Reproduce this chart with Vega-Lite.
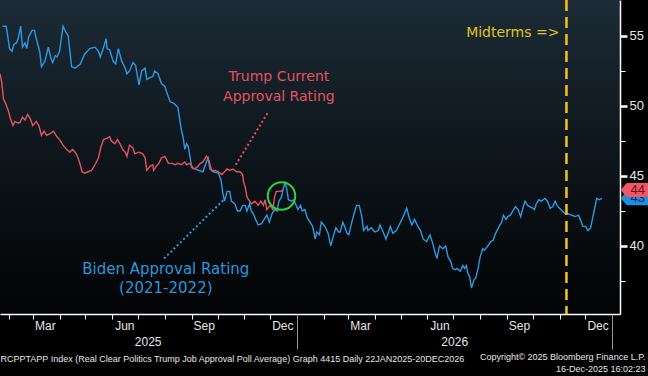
{
"$schema":"https://vega.github.io/schema/vega-lite/v6.json",
"width":620,"height":314,
"autosize":{"type":"none"},
"padding":{"left":0,"top":0,"right":28,"bottom":62},
"background":"#000000",
"config":{
 "view":{"stroke":null,"fill":{"gradient":"linear","x1":0,"y1":0,"x2":0,"y2":1,"stops":[{"offset":0,"color":"#1c2b36"},{"offset":0.5,"color":"#0d151b"},{"offset":1,"color":"#020304"}]}},
 "axis":{"grid":false,"labelFont":"Liberation Sans","labelColor":"#e6e6e6","domainColor":"#ffffff","tickColor":"#ffffff","titleFont":"Liberation Sans","titleColor":"#e6e6e6","labelFontSize":12}
},
"datasets":{
 "lines":[
{"series":"Biden","date":"2025-01-25","value":55.7},{"series":"Biden","date":"2025-01-29","value":55.7},{"series":"Biden","date":"2025-01-30","value":55.4},{"series":"Biden","date":"2025-02-02","value":54.1},{"series":"Biden","date":"2025-02-05","value":53.9},{"series":"Biden","date":"2025-02-07","value":54.4},{"series":"Biden","date":"2025-02-10","value":54.5},{"series":"Biden","date":"2025-02-12","value":54.8},{"series":"Biden","date":"2025-02-15","value":55.7},{"series":"Biden","date":"2025-02-17","value":54.2},{"series":"Biden","date":"2025-02-20","value":54.5},{"series":"Biden","date":"2025-02-22","value":54.1},{"series":"Biden","date":"2025-02-24","value":54.9},{"series":"Biden","date":"2025-02-28","value":55.4},{"series":"Biden","date":"2025-03-03","value":55.4},{"series":"Biden","date":"2025-03-05","value":54.8},{"series":"Biden","date":"2025-03-09","value":53.9},{"series":"Biden","date":"2025-03-11","value":52.8},{"series":"Biden","date":"2025-03-15","value":53.2},{"series":"Biden","date":"2025-03-19","value":54.2},{"series":"Biden","date":"2025-03-22","value":53.4},{"series":"Biden","date":"2025-03-24","value":53.1},{"series":"Biden","date":"2025-03-27","value":53.6},{"series":"Biden","date":"2025-03-29","value":53.5},{"series":"Biden","date":"2025-04-01","value":53.9},{"series":"Biden","date":"2025-04-03","value":54.8},{"series":"Biden","date":"2025-04-05","value":55.7},{"series":"Biden","date":"2025-04-08","value":55.3},{"series":"Biden","date":"2025-04-11","value":55.0},{"series":"Biden","date":"2025-04-13","value":53.9},{"series":"Biden","date":"2025-04-15","value":52.8},{"series":"Biden","date":"2025-04-19","value":52.7},{"series":"Biden","date":"2025-04-25","value":53.0},{"series":"Biden","date":"2025-04-30","value":53.7},{"series":"Biden","date":"2025-05-06","value":54.1},{"series":"Biden","date":"2025-05-12","value":54.2},{"series":"Biden","date":"2025-05-16","value":53.9},{"series":"Biden","date":"2025-05-18","value":53.5},{"series":"Biden","date":"2025-05-21","value":54.0},{"series":"Biden","date":"2025-05-25","value":54.8},{"series":"Biden","date":"2025-05-26","value":54.1},{"series":"Biden","date":"2025-05-29","value":54.0},{"series":"Biden","date":"2025-06-02","value":53.2},{"series":"Biden","date":"2025-06-05","value":53.0},{"series":"Biden","date":"2025-06-08","value":54.1},{"series":"Biden","date":"2025-06-12","value":53.2},{"series":"Biden","date":"2025-06-16","value":52.7},{"series":"Biden","date":"2025-06-18","value":52.3},{"series":"Biden","date":"2025-06-21","value":52.5},{"series":"Biden","date":"2025-06-25","value":53.1},{"series":"Biden","date":"2025-06-28","value":52.9},{"series":"Biden","date":"2025-07-02","value":51.5},{"series":"Biden","date":"2025-07-05","value":52.5},{"series":"Biden","date":"2025-07-09","value":52.7},{"series":"Biden","date":"2025-07-11","value":51.9},{"series":"Biden","date":"2025-07-14","value":52.0},{"series":"Biden","date":"2025-07-18","value":52.1},{"series":"Biden","date":"2025-07-20","value":52.5},{"series":"Biden","date":"2025-07-24","value":52.3},{"series":"Biden","date":"2025-07-28","value":51.6},{"series":"Biden","date":"2025-08-01","value":51.4},{"series":"Biden","date":"2025-08-03","value":51.0},{"series":"Biden","date":"2025-08-07","value":50.3},{"series":"Biden","date":"2025-08-11","value":50.2},{"series":"Biden","date":"2025-08-16","value":49.9},{"series":"Biden","date":"2025-08-20","value":48.3},{"series":"Biden","date":"2025-08-22","value":47.8},{"series":"Biden","date":"2025-08-24","value":46.9},{"series":"Biden","date":"2025-08-26","value":47.3},{"series":"Biden","date":"2025-08-28","value":47.1},{"series":"Biden","date":"2025-08-30","value":46.4},{"series":"Biden","date":"2025-09-01","value":45.6},{"series":"Biden","date":"2025-09-05","value":45.5},{"series":"Biden","date":"2025-09-09","value":45.4},{"series":"Biden","date":"2025-09-14","value":45.3},{"series":"Biden","date":"2025-09-18","value":46.0},{"series":"Biden","date":"2025-09-20","value":46.3},{"series":"Biden","date":"2025-09-22","value":45.5},{"series":"Biden","date":"2025-09-26","value":45.3},{"series":"Biden","date":"2025-10-02","value":45.2},{"series":"Biden","date":"2025-10-05","value":44.7},{"series":"Biden","date":"2025-10-07","value":43.8},{"series":"Biden","date":"2025-10-09","value":43.2},{"series":"Biden","date":"2025-10-12","value":43.9},{"series":"Biden","date":"2025-10-15","value":43.9},{"series":"Biden","date":"2025-10-17","value":43.2},{"series":"Biden","date":"2025-10-21","value":43.0},{"series":"Biden","date":"2025-10-24","value":42.5},{"series":"Biden","date":"2025-10-27","value":42.5},{"series":"Biden","date":"2025-10-30","value":42.9},{"series":"Biden","date":"2025-11-02","value":42.9},{"series":"Biden","date":"2025-11-04","value":42.5},{"series":"Biden","date":"2025-11-07","value":43.0},{"series":"Biden","date":"2025-11-09","value":42.5},{"series":"Biden","date":"2025-11-12","value":42.2},{"series":"Biden","date":"2025-11-14","value":41.9},{"series":"Biden","date":"2025-11-17","value":41.5},{"series":"Biden","date":"2025-11-21","value":41.6},{"series":"Biden","date":"2025-11-25","value":42.0},{"series":"Biden","date":"2025-11-27","value":42.2},{"series":"Biden","date":"2025-11-30","value":41.7},{"series":"Biden","date":"2025-12-03","value":42.3},{"series":"Biden","date":"2025-12-06","value":42.6},{"series":"Biden","date":"2025-12-09","value":42.5},{"series":"Biden","date":"2025-12-11","value":43.2},{"series":"Biden","date":"2025-12-14","value":43.5},{"series":"Biden","date":"2025-12-16","value":44.1},{"series":"Biden","date":"2025-12-18","value":44.5},{"series":"Biden","date":"2025-12-20","value":44.1},{"series":"Biden","date":"2025-12-22","value":43.3},{"series":"Biden","date":"2025-12-26","value":43.2},{"series":"Biden","date":"2025-12-28","value":43.3},{"series":"Biden","date":"2025-12-31","value":42.9},{"series":"Biden","date":"2026-01-02","value":42.6},{"series":"Biden","date":"2026-01-05","value":42.9},{"series":"Biden","date":"2026-01-07","value":42.5},{"series":"Biden","date":"2026-01-10","value":42.6},{"series":"Biden","date":"2026-01-13","value":42.0},{"series":"Biden","date":"2026-01-16","value":41.7},{"series":"Biden","date":"2026-01-19","value":41.4},{"series":"Biden","date":"2026-01-22","value":40.5},{"series":"Biden","date":"2026-01-24","value":41.0},{"series":"Biden","date":"2026-01-27","value":40.8},{"series":"Biden","date":"2026-01-29","value":41.7},{"series":"Biden","date":"2026-02-01","value":41.5},{"series":"Biden","date":"2026-02-03","value":41.3},{"series":"Biden","date":"2026-02-06","value":40.9},{"series":"Biden","date":"2026-02-09","value":40.0},{"series":"Biden","date":"2026-02-12","value":40.7},{"series":"Biden","date":"2026-02-15","value":41.3},{"series":"Biden","date":"2026-02-18","value":41.0},{"series":"Biden","date":"2026-02-20","value":41.0},{"series":"Biden","date":"2026-02-23","value":41.7},{"series":"Biden","date":"2026-02-25","value":41.4},{"series":"Biden","date":"2026-02-28","value":40.9},{"series":"Biden","date":"2026-03-02","value":40.8},{"series":"Biden","date":"2026-03-05","value":41.6},{"series":"Biden","date":"2026-03-08","value":42.3},{"series":"Biden","date":"2026-03-11","value":42.9},{"series":"Biden","date":"2026-03-14","value":42.9},{"series":"Biden","date":"2026-03-17","value":42.1},{"series":"Biden","date":"2026-03-19","value":41.1},{"series":"Biden","date":"2026-03-23","value":41.4},{"series":"Biden","date":"2026-03-24","value":41.1},{"series":"Biden","date":"2026-03-28","value":41.3},{"series":"Biden","date":"2026-04-01","value":41.0},{"series":"Biden","date":"2026-04-05","value":41.1},{"series":"Biden","date":"2026-04-07","value":41.5},{"series":"Biden","date":"2026-04-10","value":41.1},{"series":"Biden","date":"2026-04-14","value":40.5},{"series":"Biden","date":"2026-04-17","value":41.0},{"series":"Biden","date":"2026-04-19","value":41.4},{"series":"Biden","date":"2026-04-22","value":40.9},{"series":"Biden","date":"2026-04-26","value":41.1},{"series":"Biden","date":"2026-04-30","value":41.6},{"series":"Biden","date":"2026-05-04","value":42.1},{"series":"Biden","date":"2026-05-08","value":42.7},{"series":"Biden","date":"2026-05-11","value":42.0},{"series":"Biden","date":"2026-05-14","value":41.5},{"series":"Biden","date":"2026-05-17","value":41.9},{"series":"Biden","date":"2026-05-21","value":41.4},{"series":"Biden","date":"2026-05-24","value":41.1},{"series":"Biden","date":"2026-05-27","value":40.5},{"series":"Biden","date":"2026-05-31","value":40.3},{"series":"Biden","date":"2026-06-04","value":40.8},{"series":"Biden","date":"2026-06-07","value":40.2},{"series":"Biden","date":"2026-06-10","value":39.5},{"series":"Biden","date":"2026-06-12","value":39.1},{"series":"Biden","date":"2026-06-15","value":40.0},{"series":"Biden","date":"2026-06-19","value":39.8},{"series":"Biden","date":"2026-06-22","value":40.0},{"series":"Biden","date":"2026-06-25","value":39.2},{"series":"Biden","date":"2026-06-28","value":38.9},{"series":"Biden","date":"2026-06-30","value":38.4},{"series":"Biden","date":"2026-07-03","value":38.3},{"series":"Biden","date":"2026-07-05","value":38.4},{"series":"Biden","date":"2026-07-09","value":38.2},{"series":"Biden","date":"2026-07-12","value":38.6},{"series":"Biden","date":"2026-07-14","value":38.4},{"series":"Biden","date":"2026-07-16","value":38.6},{"series":"Biden","date":"2026-07-18","value":38.0},{"series":"Biden","date":"2026-07-20","value":37.8},{"series":"Biden","date":"2026-07-22","value":37.0},{"series":"Biden","date":"2026-07-25","value":37.6},{"series":"Biden","date":"2026-07-27","value":37.7},{"series":"Biden","date":"2026-07-30","value":38.5},{"series":"Biden","date":"2026-08-01","value":39.2},{"series":"Biden","date":"2026-08-04","value":39.8},{"series":"Biden","date":"2026-08-06","value":39.7},{"series":"Biden","date":"2026-08-10","value":40.0},{"series":"Biden","date":"2026-08-13","value":40.3},{"series":"Biden","date":"2026-08-16","value":40.4},{"series":"Biden","date":"2026-08-19","value":40.9},{"series":"Biden","date":"2026-08-23","value":41.4},{"series":"Biden","date":"2026-08-26","value":41.7},{"series":"Biden","date":"2026-08-28","value":42.2},{"series":"Biden","date":"2026-08-31","value":41.9},{"series":"Biden","date":"2026-09-02","value":42.1},{"series":"Biden","date":"2026-09-05","value":42.2},{"series":"Biden","date":"2026-09-08","value":42.5},{"series":"Biden","date":"2026-09-11","value":42.8},{"series":"Biden","date":"2026-09-14","value":42.6},{"series":"Biden","date":"2026-09-17","value":42.1},{"series":"Biden","date":"2026-09-20","value":42.8},{"series":"Biden","date":"2026-09-22","value":43.2},{"series":"Biden","date":"2026-09-25","value":42.9},{"series":"Biden","date":"2026-09-28","value":42.8},{"series":"Biden","date":"2026-10-01","value":42.7},{"series":"Biden","date":"2026-10-03","value":42.6},{"series":"Biden","date":"2026-10-05","value":43.0},{"series":"Biden","date":"2026-10-08","value":43.3},{"series":"Biden","date":"2026-10-11","value":43.2},{"series":"Biden","date":"2026-10-13","value":43.3},{"series":"Biden","date":"2026-10-15","value":43.4},{"series":"Biden","date":"2026-10-18","value":43.2},{"series":"Biden","date":"2026-10-21","value":42.7},{"series":"Biden","date":"2026-10-24","value":42.8},{"series":"Biden","date":"2026-10-27","value":43.2},{"series":"Biden","date":"2026-10-29","value":42.9},{"series":"Biden","date":"2026-11-01","value":42.7},{"series":"Biden","date":"2026-11-04","value":42.5},{"series":"Biden","date":"2026-11-08","value":42.3},{"series":"Biden","date":"2026-11-11","value":42.3},{"series":"Biden","date":"2026-11-15","value":42.2},{"series":"Biden","date":"2026-11-19","value":42.1},{"series":"Biden","date":"2026-11-23","value":42.2},{"series":"Biden","date":"2026-11-25","value":41.9},{"series":"Biden","date":"2026-11-28","value":41.4},{"series":"Biden","date":"2026-12-01","value":41.4},{"series":"Biden","date":"2026-12-04","value":41.1},{"series":"Biden","date":"2026-12-07","value":41.3},{"series":"Biden","date":"2026-12-09","value":41.9},{"series":"Biden","date":"2026-12-12","value":42.8},{"series":"Biden","date":"2026-12-14","value":43.4},{"series":"Biden","date":"2026-12-17","value":43.3},{"series":"Biden","date":"2026-12-20","value":43.4},
{"series":"Trump","date":"2025-01-22","value":52.3},{"series":"Trump","date":"2025-01-24","value":51.7},{"series":"Trump","date":"2025-01-26","value":50.5},{"series":"Trump","date":"2025-01-29","value":50.1},{"series":"Trump","date":"2025-02-01","value":49.6},{"series":"Trump","date":"2025-02-03","value":49.1},{"series":"Trump","date":"2025-02-06","value":48.6},{"series":"Trump","date":"2025-02-08","value":48.9},{"series":"Trump","date":"2025-02-11","value":48.8},{"series":"Trump","date":"2025-02-14","value":48.8},{"series":"Trump","date":"2025-02-17","value":49.2},{"series":"Trump","date":"2025-02-20","value":49.0},{"series":"Trump","date":"2025-02-23","value":49.4},{"series":"Trump","date":"2025-02-26","value":49.1},{"series":"Trump","date":"2025-03-01","value":48.6},{"series":"Trump","date":"2025-03-05","value":48.9},{"series":"Trump","date":"2025-03-08","value":48.6},{"series":"Trump","date":"2025-03-11","value":47.9},{"series":"Trump","date":"2025-03-14","value":48.2},{"series":"Trump","date":"2025-03-17","value":47.9},{"series":"Trump","date":"2025-03-23","value":48.1},{"series":"Trump","date":"2025-03-25","value":48.2},{"series":"Trump","date":"2025-03-29","value":47.8},{"series":"Trump","date":"2025-04-01","value":47.6},{"series":"Trump","date":"2025-04-05","value":47.2},{"series":"Trump","date":"2025-04-09","value":46.9},{"series":"Trump","date":"2025-04-13","value":46.7},{"series":"Trump","date":"2025-04-16","value":46.9},{"series":"Trump","date":"2025-04-19","value":46.7},{"series":"Trump","date":"2025-04-21","value":46.5},{"series":"Trump","date":"2025-04-24","value":46.0},{"series":"Trump","date":"2025-04-27","value":45.3},{"series":"Trump","date":"2025-04-30","value":45.2},{"series":"Trump","date":"2025-05-04","value":45.3},{"series":"Trump","date":"2025-05-08","value":45.4},{"series":"Trump","date":"2025-05-12","value":45.8},{"series":"Trump","date":"2025-05-16","value":46.3},{"series":"Trump","date":"2025-05-19","value":47.1},{"series":"Trump","date":"2025-05-22","value":47.6},{"series":"Trump","date":"2025-05-26","value":47.7},{"series":"Trump","date":"2025-05-29","value":47.8},{"series":"Trump","date":"2025-05-31","value":47.5},{"series":"Trump","date":"2025-06-04","value":47.3},{"series":"Trump","date":"2025-06-07","value":47.6},{"series":"Trump","date":"2025-06-10","value":47.3},{"series":"Trump","date":"2025-06-13","value":46.9},{"series":"Trump","date":"2025-06-16","value":46.7},{"series":"Trump","date":"2025-06-18","value":46.4},{"series":"Trump","date":"2025-06-21","value":47.2},{"series":"Trump","date":"2025-06-25","value":47.0},{"series":"Trump","date":"2025-06-27","value":46.6},{"series":"Trump","date":"2025-07-02","value":46.7},{"series":"Trump","date":"2025-07-06","value":46.6},{"series":"Trump","date":"2025-07-09","value":46.3},{"series":"Trump","date":"2025-07-11","value":45.4},{"series":"Trump","date":"2025-07-15","value":45.7},{"series":"Trump","date":"2025-07-18","value":45.8},{"series":"Trump","date":"2025-07-19","value":45.4},{"series":"Trump","date":"2025-07-22","value":45.7},{"series":"Trump","date":"2025-07-25","value":45.9},{"series":"Trump","date":"2025-07-28","value":46.3},{"series":"Trump","date":"2025-08-01","value":46.4},{"series":"Trump","date":"2025-08-05","value":45.9},{"series":"Trump","date":"2025-08-09","value":45.9},{"series":"Trump","date":"2025-08-13","value":45.8},{"series":"Trump","date":"2025-08-16","value":45.9},{"series":"Trump","date":"2025-08-20","value":45.8},{"series":"Trump","date":"2025-08-24","value":46.0},{"series":"Trump","date":"2025-08-26","value":45.8},{"series":"Trump","date":"2025-08-30","value":45.9},{"series":"Trump","date":"2025-09-03","value":45.5},{"series":"Trump","date":"2025-09-07","value":45.6},{"series":"Trump","date":"2025-09-11","value":45.9},{"series":"Trump","date":"2025-09-14","value":46.0},{"series":"Trump","date":"2025-09-18","value":46.4},{"series":"Trump","date":"2025-09-21","value":46.1},{"series":"Trump","date":"2025-09-24","value":45.4},{"series":"Trump","date":"2025-09-28","value":45.4},{"series":"Trump","date":"2025-10-02","value":45.3},{"series":"Trump","date":"2025-10-06","value":45.1},{"series":"Trump","date":"2025-10-09","value":45.3},{"series":"Trump","date":"2025-10-12","value":45.5},{"series":"Trump","date":"2025-10-15","value":45.4},{"series":"Trump","date":"2025-10-19","value":45.5},{"series":"Trump","date":"2025-10-23","value":45.3},{"series":"Trump","date":"2025-10-27","value":45.3},{"series":"Trump","date":"2025-10-30","value":45.1},{"series":"Trump","date":"2025-10-31","value":44.6},{"series":"Trump","date":"2025-11-02","value":44.2},{"series":"Trump","date":"2025-11-04","value":43.5},{"series":"Trump","date":"2025-11-07","value":43.2},{"series":"Trump","date":"2025-11-09","value":43.0},{"series":"Trump","date":"2025-11-13","value":43.2},{"series":"Trump","date":"2025-11-17","value":42.9},{"series":"Trump","date":"2025-11-20","value":43.2},{"series":"Trump","date":"2025-11-23","value":42.9},{"series":"Trump","date":"2025-11-25","value":43.3},{"series":"Trump","date":"2025-11-27","value":42.6},{"series":"Trump","date":"2025-12-01","value":42.9},{"series":"Trump","date":"2025-12-04","value":42.6},{"series":"Trump","date":"2025-12-06","value":43.5},{"series":"Trump","date":"2025-12-08","value":43.9},{"series":"Trump","date":"2025-12-11","value":43.9},{"series":"Trump","date":"2025-12-13","value":43.9},{"series":"Trump","date":"2025-12-16","value":44.0}
 ]
},
"layer":[
 {
  "data":{"name":"lines"},
  "mark":{"type":"line","strokeWidth":1.4},
  "encoding":{
   "x":{"field":"date","type":"temporal",
    "scale":{"type":"utc","domain":[{"year":2025,"month":1,"date":22,"utc":true},{"year":2027,"month":1,"date":10,"utc":true}]},
    "axis":{"orient":"bottom","labels":false,"tickSize":5,"tickWidth":1,"domainWidth":1.5,"title":null,
     "values":[{"year":2025,"month":2,"date":1,"utc":true},{"year":2025,"month":3,"date":1,"utc":true},{"year":2025,"month":4,"date":1,"utc":true},{"year":2025,"month":5,"date":1,"utc":true},{"year":2025,"month":6,"date":1,"utc":true},{"year":2025,"month":7,"date":1,"utc":true},{"year":2025,"month":8,"date":1,"utc":true},{"year":2025,"month":9,"date":1,"utc":true},{"year":2025,"month":10,"date":1,"utc":true},{"year":2025,"month":11,"date":1,"utc":true},{"year":2025,"month":12,"date":1,"utc":true},{"year":2026,"month":1,"date":1,"utc":true},{"year":2026,"month":2,"date":1,"utc":true},{"year":2026,"month":3,"date":1,"utc":true},{"year":2026,"month":4,"date":1,"utc":true},{"year":2026,"month":5,"date":1,"utc":true},{"year":2026,"month":6,"date":1,"utc":true},{"year":2026,"month":7,"date":1,"utc":true},{"year":2026,"month":8,"date":1,"utc":true},{"year":2026,"month":9,"date":1,"utc":true},{"year":2026,"month":10,"date":1,"utc":true},{"year":2026,"month":11,"date":1,"utc":true},{"year":2026,"month":12,"date":1,"utc":true},{"year":2027,"month":1,"date":1,"utc":true}]}},
   "y":{"field":"value","type":"quantitative","scale":{"domain":[35.14,57.57],"nice":false,"zero":false},
    "axis":{"orient":"right","values":[40,45,50,55],"tickSize":7,"tickWidth":2.5,"labelPadding":2,"labelFontSize":13,"domainWidth":1.5,"title":null}},
   "color":{"field":"series","type":"nominal","scale":{"domain":["Biden","Trump"],"range":["#2a9be3","#e5525f"]},"legend":null}
  }
 },
 {
  "data":{"values":[{"series":"Trump","date":"2025-11-28","value":49.5},{"series":"Trump","date":"2025-10-22","value":45.8},{"series":"Biden","date":"2025-07-31","value":39.1},{"series":"Biden","date":"2025-10-08","value":43.3}]},
  "mark":{"type":"line","strokeWidth":2,"strokeDash":[2,2.5]},
  "encoding":{
   "x":{"field":"date","type":"temporal",
    "axis":{"orient":"bottom","format":"%b","ticks":false,"tickSize":0,"domain":false,"labelPadding":6,"labelFontSize":12,"title":null,
     "values":[{"year":2025,"month":3,"date":15,"utc":true},{"year":2025,"month":6,"date":15,"utc":true},{"year":2025,"month":9,"date":15,"utc":true},{"year":2025,"month":12,"date":15,"utc":true},{"year":2026,"month":3,"date":15,"utc":true},{"year":2026,"month":6,"date":15,"utc":true},{"year":2026,"month":9,"date":15,"utc":true},{"year":2026,"month":12,"date":15,"utc":true}]}},
   "y":{"field":"value","type":"quantitative","axis":{"orient":"right","values":[37.5,42.5,47.5,52.5],"labels":false,"tickSize":5,"tickWidth":1,"domain":false,"title":null}},
   "color":{"field":"series","type":"nominal","legend":null}
  }
 },
 {
  "data":{"values":[{"date":"2025-12-14","value":43.57}]},
  "mark":{"type":"point","shape":"circle","filled":false,"stroke":"#2fd13f","strokeWidth":2,"size":756,"opacity":1},
  "encoding":{
   "x":{"field":"date","type":"temporal",
    "axis":{"orient":"bottom","format":"%Y","ticks":false,"tickSize":0,"domain":false,"labelPadding":22,"labelFontSize":12,
     "values":[{"year":2025,"month":7,"date":12,"utc":true},{"year":2026,"month":7,"date":2,"utc":true}],
     "title":"RCPPTAPP Index (Real Clear Politics Trump Job Approval Poll Average) Graph 4415 Daily 22JAN2025-20DEC2026",
     "titleFontSize":9,"titleFontWeight":"normal","titleX":0,"titleY":44,"titleAlign":"left","titleBaseline":"middle"}},
   "y":{"field":"value","type":"quantitative","axis":null}
  }
 },
 {
  "data":{"values":[{"date":"2026-11-09"}]},
  "mark":{"type":"rule","color":"#f2c417","strokeWidth":2.5,"strokeDash":[11,6]},
  "encoding":{
   "x":{"field":"date","type":"temporal",
    "axis":{"orient":"bottom","labels":false,"tickSize":35,"tickColor":"#9a9a9a","tickWidth":1,"domain":false,
     "values":[{"year":2026,"month":1,"date":1,"utc":true},{"year":2027,"month":1,"date":1,"utc":true}],
     "title":["Copyright© 2025 Bloomberg Finance L.P.","16-Dec-2025 16:02:23"],
     "titleFontSize":9,"titleFontWeight":"normal","titleX":645,"titleY":38,"titleAlign":"right","titleBaseline":"top","titleLineHeight":12}}
  }
 },
 {
  "data":{"values":[{"date":"2025-12-11","value":52.07,"label":"Trump Current"},{"date":"2025-12-11","value":50.66,"label":"Approval Rating"}]},
  "mark":{"type":"text","font":"DejaVu Sans","fontSize":14,"color":"#e5525f","align":"center","baseline":"middle"},
  "encoding":{"x":{"field":"date","type":"temporal","axis":null},"y":{"field":"value","type":"quantitative","axis":null},"text":{"field":"label"}}
 },
 {
  "data":{"values":[{"date":"2025-08-02","value":38.36,"label":"Biden Approval Rating"},{"date":"2025-08-02","value":37.0,"label":"(2021-2022)"}]},
  "mark":{"type":"text","font":"DejaVu Sans","fontSize":15,"color":"#2a96dc","align":"center","baseline":"middle"},
  "encoding":{"x":{"field":"date","type":"temporal","axis":null},"y":{"field":"value","type":"quantitative","axis":null},"text":{"field":"label"}}
 },
 {
  "data":{"values":[{"date":"2026-11-09","value":55.2,"label":"Midterms =>"}]},
  "mark":{"type":"text","font":"DejaVu Sans","fontSize":14,"color":"#e3c31e","align":"right","baseline":"middle","dx":-7},
  "encoding":{"x":{"field":"date","type":"temporal","axis":null},"y":{"field":"value","type":"quantitative","axis":null},"text":{"field":"label"}}
 },
 {
  "data":{"values":[{"date":"2027-01-27","value":43.4,"label":"43"}]},
  "layer":[
   {"mark":{"type":"point","shape":"M-1,0 L-0.57,-0.5 L1,-0.5 L1,0.5 L-0.57,0.5 Z","filled":true,"color":"#1e8fe0","size":784,"opacity":1}},
   {"mark":{"type":"text","font":"Liberation Sans","fontSize":13,"color":"#0a2a50","align":"center","baseline":"middle","dx":3}}
  ],
  "encoding":{"x":{"field":"date","type":"temporal","axis":null},"y":{"field":"value","type":"quantitative","axis":null},"text":{"field":"label"}}
 },
 {
  "data":{"values":[{"date":"2027-01-27","value":44.0,"label":"44"}]},
  "layer":[
   {"mark":{"type":"point","shape":"M-1,0 L-0.57,-0.5 L1,-0.5 L1,0.5 L-0.57,0.5 Z","filled":true,"color":"#f0566a","size":784,"opacity":1}},
   {"mark":{"type":"text","font":"Liberation Sans","fontSize":13,"color":"#6e0f1c","align":"center","baseline":"middle","dx":3}}
  ],
  "encoding":{"x":{"field":"date","type":"temporal","axis":null},"y":{"field":"value","type":"quantitative","axis":null},"text":{"field":"label"}}
 }
],
"resolve":{"axis":{"x":"independent","y":"independent"}}
}
